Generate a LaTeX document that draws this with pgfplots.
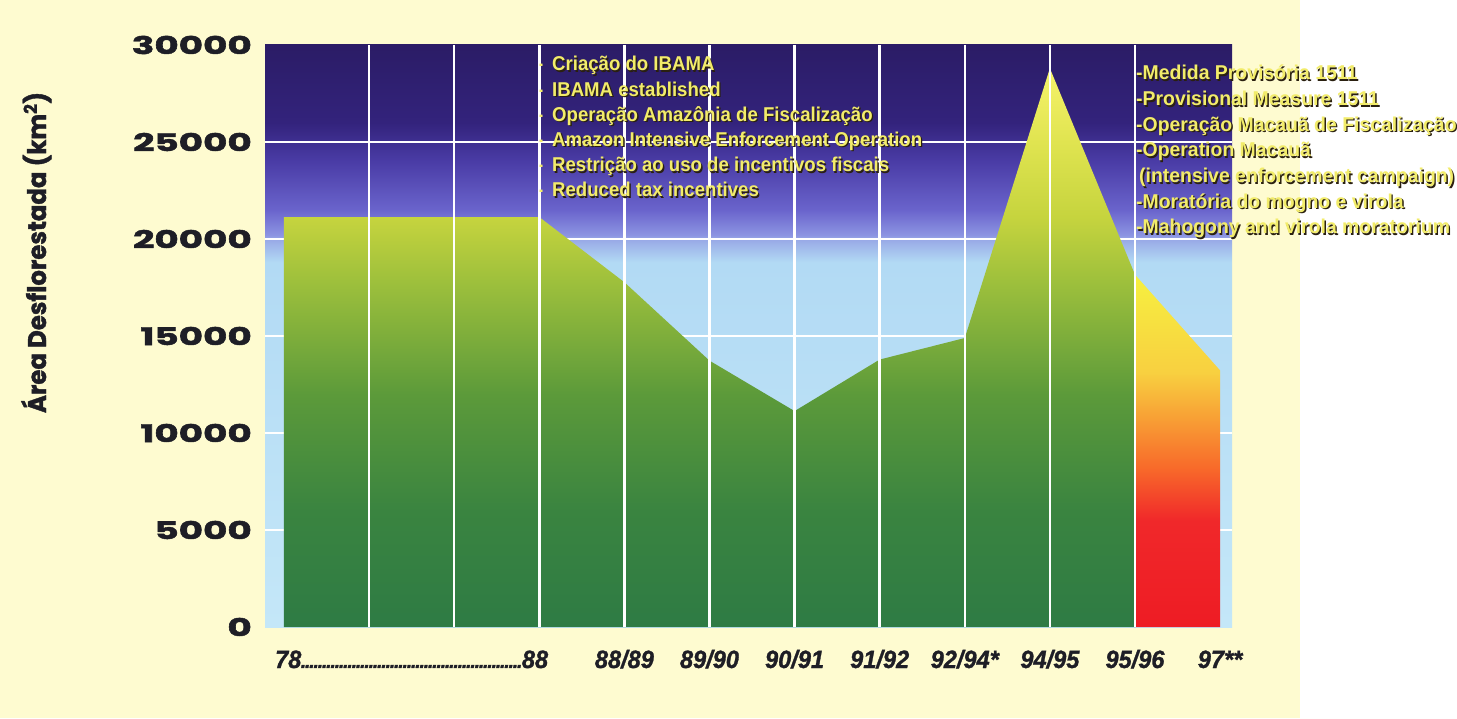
\documentclass[border=0pt]{standalone}
\usepackage{fontspec}
\usepackage{pgfplots}
\usepackage{pgfplotstable}
\pgfplotsset{compat=1.18}
\usepackage{graphicx}
\setmainfont{Liberation Sans}
\newfontfamily\annfont{Liberation Sans}
\newfontfamily\xlabfont{Liberation Sans}[FakeBold=1.2]
\newfontfamily\tickfont{Poppins}[FakeBold=1.6]

\definecolor{cream}{HTML}{FEFBD0}
\definecolor{annyellow}{HTML}{F2EC6A}
\definecolor{annshadow}{HTML}{2A2010}
\definecolor{ticktext}{HTML}{1E1E26}
% background
\definecolor{bgA}{HTML}{C4E7F8}
\definecolor{bgB}{HTML}{B2DAF4}
\definecolor{bgC}{HTML}{98A8E6}
\definecolor{bgD}{HTML}{8C94E2}
\definecolor{bgE}{HTML}{6A64CC}
\definecolor{bgF}{HTML}{4A3CA6}
\definecolor{bgG}{HTML}{33237C}
\definecolor{bgH}{HTML}{2B1C66}
\pgfdeclareverticalshading{bgsh}{100bp}{color(0bp)=(bgA); color(25bp)=(bgA); color(56.33bp)=(bgB); color(58.33bp)=(bgC); color(58.67bp)=(bgD); color(60.83bp)=(bgE); color(65bp)=(bgF); color(68.33bp)=(bgG); color(75bp)=(bgH); color(100bp)=(bgH)}
% green
\definecolor{gA}{HTML}{2E7B44}
\definecolor{gB}{HTML}{3A8440}
\definecolor{gC}{HTML}{5C9A3A}
\definecolor{gD}{HTML}{9CBF3C}
\definecolor{gE}{HTML}{C6D43E}
\definecolor{gF}{HTML}{E0E450}
\definecolor{gG}{HTML}{F6F36A}
\pgfdeclareverticalshading{greensh}{100bp}{color(0bp)=(gA); color(25bp)=(gA); color(35.4bp)=(gB); color(45.8bp)=(gC); color(55.7bp)=(gD); color(61.7bp)=(gE); color(68.4bp)=(gF); color(75bp)=(gG); color(100bp)=(gG)}
% red
\definecolor{rA}{HTML}{EE1C24}
\definecolor{rB}{HTML}{F0282A}
\definecolor{rC}{HTML}{F86A2A}
\definecolor{rD}{HTML}{F8A035}
\definecolor{rE}{HTML}{F8D040}
\definecolor{rF}{HTML}{F6F040}
\pgfdeclareverticalshading{redsh}{100bp}{color(0bp)=(rA); color(25bp)=(rA); color(40.1bp)=(rB); color(47.6bp)=(rC); color(54.7bp)=(rD); color(61.1bp)=(rE); color(75bp)=(rF); color(100bp)=(rF)}

\pgfplotstableread{
x y
0 21130
3 21130
4 17770
5 13730
6 11130
7 13786
8 14896
9 28800
10 18161
}\greendata
\pgfplotstableread{
x y
10 18161
11 13227
}\reddata

\newcommand\tkf{\tickfont\bfseries\fontsize{24.4}{26}\selectfont}
\newcommand\xkf{\xlabfont\bfseries\itshape\fontsize{25}{27}\selectfont}
\newcommand\anf{\annfont\bfseries\fontsize{20}{22}\selectfont}
\newlength\tw

\begin{document}
\settowidth{\tw}{\tkf 30000}\pgfmathsetmacro\tfac{120/\tw}%
\settowidth{\tw}{\xkf 88/89}\pgfmathsetmacro\xfac{59/\tw}%
\settowidth{\tw}{\anf Amazon Intensive Enforcement Operation}\pgfmathsetmacro\lfac{370/\tw}%
\settowidth{\tw}{\anf Operação Macauã de Fiscalização}\pgfmathsetmacro\rfac{314/\tw}%
\newcommand\yt[1]{\scalebox{\tfac}[1]{\tkf #1}}%
\newcommand\xt[1]{\scalebox{\xfac}[1]{\xkf #1}}%
\newcommand\ann[4]{%
 \node[anchor=base west, inner sep=0pt, text=annshadow] at (#1+1.4,#2-1.4) {\scalebox{#3}[1]{\anf #4}};
 \node[anchor=base west, inner sep=0pt, text=annyellow] at (#1,#2) {\scalebox{#3}[1]{\anf #4}};}%
\begin{tikzpicture}[x=1pt,y=1pt]
\fill[white] (0,0) rectangle (1457,718);
\fill[cream] (0,0) rectangle (1300,718);
\path[use as bounding box] (0,0) rectangle (1457,718);
\begin{axis}[
  at={(265pt,91pt)}, anchor=south west, scale only axis,
  width=967pt, height=582pt,
  xmin=-0.223, xmax=11.14, ymin=0, ymax=30000,
  scaled y ticks=false,
  axis line style={draw=none}, tick style={draw=none}, major tick length=0pt,
  axis background/.style={shading=bgsh},
  ytick={0,5000,10000,15000,20000,25000,30000},
  yticklabels={\yt{0},\yt{5000},\yt{10000},\yt{15000},\yt{20000},\yt{25000},\yt{30000}},
  yticklabel style={anchor=east, inner sep=0pt, xshift=-13pt, text=ticktext},
  xtick={1.5,4,5,6,7,8,9,10,11},
  xticklabels={{\hbox to 273pt{\xt{78}\xleaders\hbox to 4.2pt{\hss\xkf\scalebox{0.8}{.}\hss}\hfill\xt{88}}},\xt{88/89},\xt{89/90},\xt{90/91},\xt{91/92},\xt{92/94*},\xt{94/95},\xt{95/96},\xt{97**}},
  xticklabel style={anchor=base, inner sep=0pt, yshift=-41pt, text=ticktext},
]
\pgfplotsinvokeforeach{5000,10000,15000,20000,25000}{\draw[white, line width=2.5pt] (axis cs:-0.223,#1) -- (axis cs:11.14,#1);}
\addplot[draw=none, shading=greensh] table[x=x,y=y] {\greendata} \closedcycle;
\addplot[draw=none, shading=redsh] table[x=x,y=y] {\reddata} \closedcycle;
\pgfplotsinvokeforeach{1,2,3,4,5,6,7,8,9,10}{\draw[white, line width=2.5pt] (axis cs:#1,0) -- (axis cs:#1,30000);}
\end{axis}
% y label
\node[rotate=90, anchor=base, inner sep=0pt, text=ticktext] at (46,465.5) {\resizebox{321pt}{\height}{\tickfont\bfseries\fontsize{25.5}{27}\selectfont Área Desflorestada (km\textsuperscript{2})}};
% left annotation block
\ann{552}{647}{\lfac}{Criação do IBAMA}
\ann{552}{621.8}{\lfac}{IBAMA established}
\ann{552}{596.6}{\lfac}{Operação Amazônia de Fiscalização}
\ann{552}{571.4}{\lfac}{Amazon Intensive Enforcement Operation}
\ann{552}{546.2}{\lfac}{Restrição ao uso de incentivos fiscais}
\ann{552}{521}{\lfac}{Reduced tax incentives}
\foreach \yy in {647,621.8,596.6,571.4,546.2,521}{\node[anchor=base west, inner sep=0pt, text=annyellow] at (539,\yy) {\anf\scalebox{0.6}[1]{-}};}
% right annotation block
\ann{1136}{638}{\rfac}{-Medida Provisória 1511}
\ann{1136}{612.3}{\rfac}{-Provisional Measure 1511}
\ann{1136}{586.7}{\rfac}{-Operação Macauã de Fiscalização}
\ann{1136}{561}{\rfac}{-Operation Macauã}
\ann{1139}{535.3}{\rfac}{(intensive enforcement campaign)}
\ann{1136}{509.7}{\rfac}{-Moratória do mogno e virola}
\ann{1136}{484}{\rfac}{-Mahogony and virola moratorium}
\end{tikzpicture}
\end{document}
